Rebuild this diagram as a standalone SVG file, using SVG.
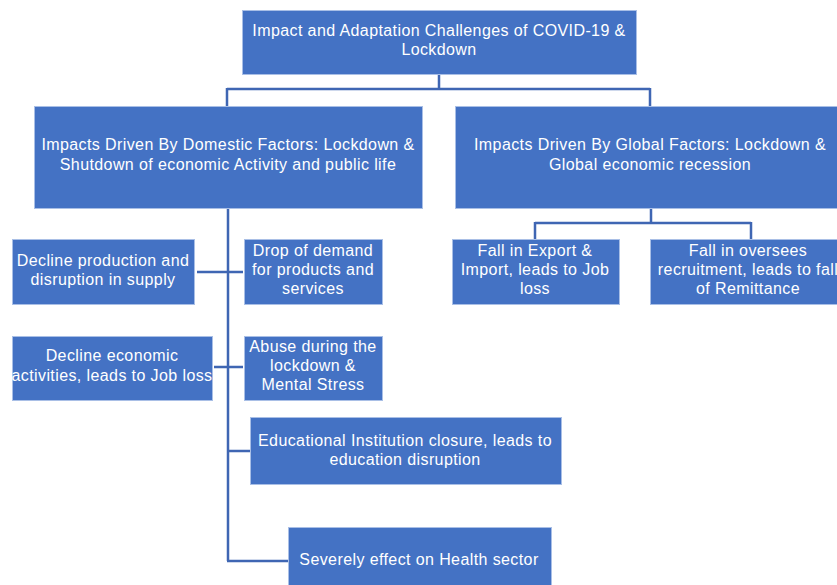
<svg xmlns="http://www.w3.org/2000/svg" width="837" height="585" viewBox="0 0 837 585">
<style>
.box{fill:#4472C4;stroke:#A9BFE6;stroke-width:1}
.t{fill:#FFFFFF;font-family:"Liberation Sans","Open Sans",Arial,sans-serif;font-size:16px;letter-spacing:0.4px;text-anchor:middle}
.c{fill:none;stroke:#3F66B3;stroke-width:2.5}
</style>
<rect width="837" height="585" fill="#FFFFFF"/>
<g id="connectors">
<path class="c" d="M439 74 V89 M227 89 H650 M227 88 V106 M650 88 V106"/>
<path class="c" d="M228 208 V561 M197 272 H243 M214 367 H243 M227 451 H250 M227 561 H288"/>
<path class="c" d="M651 209 V223 M535 223 H751 M535 222 V239 M751 222 V239"/>
</g>
<g id="n-root">
<rect class="box" x="242.5" y="10.5" width="394" height="64"/>
<text class="t" x="439" y="36">Impact and Adaptation Challenges of COVID-19 &amp;</text>
<text class="t" x="439" y="55">Lockdown</text>
</g>
<g id="n-domestic">
<rect class="box" x="34.5" y="106.5" width="388" height="102"/>
<text class="t" x="228" y="150">Impacts Driven By Domestic Factors: Lockdown &amp;</text>
<text class="t" x="228" y="170">Shutdown of economic Activity and public life</text>
</g>
<g id="n-global">
<rect class="box" x="455.5" y="106.5" width="390" height="102"/>
<text class="t" x="650" y="150">Impacts Driven By Global Factors: Lockdown &amp;</text>
<text class="t" x="650" y="170">Global economic recession</text>
</g>
<g id="n-decline-production">
<rect class="box" x="12.5" y="239.5" width="182" height="65"/>
<text class="t" x="103" y="266">Decline production and</text>
<text class="t" x="103" y="285">disruption in supply</text>
</g>
<g id="n-drop-demand">
<rect class="box" x="244.5" y="239.5" width="138" height="65"/>
<text class="t" x="313" y="256">Drop of demand</text>
<text class="t" x="313" y="275">for products and</text>
<text class="t" x="313" y="294">services</text>
</g>
<g id="n-decline-economic">
<rect class="box" x="12.5" y="336.5" width="200" height="64"/>
<text class="t" x="112" y="361">Decline economic</text>
<text class="t" x="112" y="381">activities, leads to Job loss</text>
</g>
<g id="n-abuse">
<rect class="box" x="244.5" y="336.5" width="138" height="64"/>
<text class="t" x="313" y="352">Abuse during the</text>
<text class="t" x="313" y="371">lockdown &amp;</text>
<text class="t" x="313" y="390">Mental Stress</text>
</g>
<g id="n-education">
<rect class="box" x="250.5" y="417.5" width="311" height="67"/>
<text class="t" x="405" y="446">Educational Institution closure, leads to</text>
<text class="t" x="405" y="465">education disruption</text>
</g>
<g id="n-health">
<rect class="box" x="288.5" y="527.5" width="263" height="62"/>
<text class="t" x="419" y="565">Severely effect on Health sector</text>
</g>
<g id="n-export">
<rect class="box" x="452.5" y="239.5" width="167" height="65"/>
<text class="t" x="535" y="256">Fall in Export &amp;</text>
<text class="t" x="535" y="275">Import, leads to Job</text>
<text class="t" x="535" y="294">loss</text>
</g>
<g id="n-oversees">
<rect class="box" x="650.5" y="239.5" width="200" height="65"/>
<text class="t" x="748" y="256">Fall in oversees</text>
<text class="t" x="748" y="275">recruitment, leads to fall</text>
<text class="t" x="748" y="294">of Remittance</text>
</g>
</svg>
